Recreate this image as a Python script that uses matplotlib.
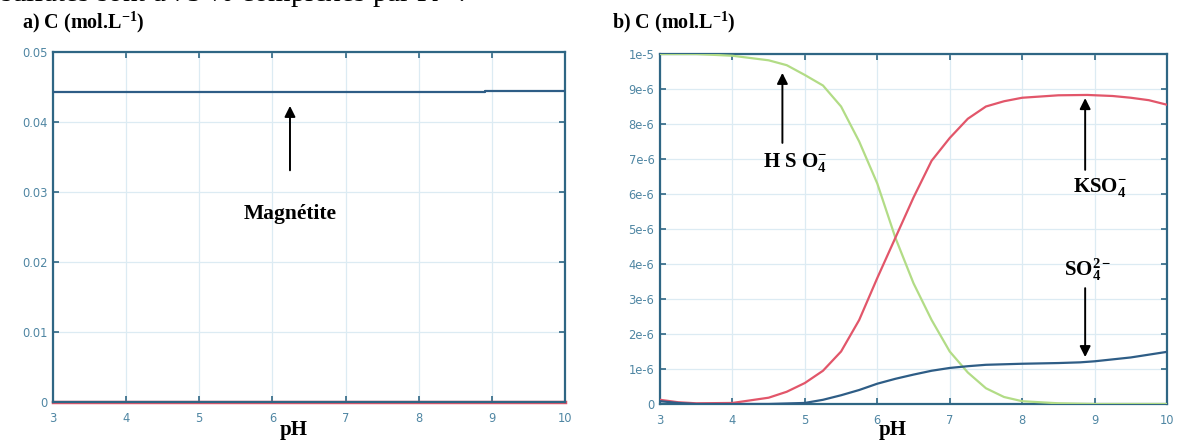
import numpy as np
import matplotlib
matplotlib.use("Agg")
import matplotlib.pyplot as plt

# ---- data -------------------------------------------------------------
ph_ticks = [3, 4, 5, 6, 7, 8, 9, 10]

# panel a: magnetite concentration (mol/L)
ph_a = [3.0, 8.9, 8.9, 10.0]
magnetite = [0.04425, 0.04425, 0.0444, 0.0444]
ph_a_other = [3.0, 10.0]
other_a = [0.0, 0.0]
yticks_a = [0, 0.01, 0.02, 0.03, 0.04, 0.05]
ylabels_a = ["0", "0.01", "0.02", "0.03", "0.04", "0.05"]

# panel b: sulfate species (1e-6 mol/L)
ph_hso4 = [3.0, 3.5, 4.0, 4.5, 4.75, 5.0, 5.25, 5.5, 5.75, 6.0, 6.25, 6.5,
           6.75, 7.0, 7.25, 7.5, 7.75, 8.0, 8.5, 9.0, 10.0]
hso4 = [10.0, 10.0, 9.95, 9.82, 9.68, 9.4, 9.1, 8.5, 7.5, 6.3, 4.75, 3.45,
        2.4, 1.5, 0.9, 0.45, 0.2, 0.08, 0.02, 0.0, 0.0]

ph_kso4 = [3.0, 3.25, 3.5, 4.0, 4.5, 4.75, 5.0, 5.25, 5.5, 5.75, 6.0, 6.25,
           6.5, 6.75, 7.0, 7.25, 7.5, 7.75, 8.0, 8.5, 8.9, 9.25, 9.5, 9.75, 10.0]
kso4 = [0.12, 0.05, 0.02, 0.03, 0.18, 0.35, 0.6, 0.95, 1.5, 2.4, 3.6, 4.75,
        5.9, 6.95, 7.6, 8.15, 8.5, 8.65, 8.75, 8.82, 8.83, 8.8, 8.75, 8.68, 8.55]

ph_so4 = [3.0, 3.25, 3.5, 4.5, 5.0, 5.25, 5.5, 5.75, 6.0, 6.25, 6.5, 6.75,
          7.0, 7.25, 7.5, 8.0, 8.5, 8.8, 9.0, 9.5, 10.0]
so4 = [0.08, 0.03, 0.0, 0.0, 0.03, 0.12, 0.25, 0.4, 0.58, 0.72, 0.84, 0.95,
       1.03, 1.08, 1.12, 1.15, 1.17, 1.19, 1.22, 1.33, 1.49]

yticks_b = [0, 1e-6, 2e-6, 3e-6, 4e-6, 5e-6, 6e-6, 7e-6, 8e-6, 9e-6, 1e-5]
ylabels_b = ["0", "1e-6", "2e-6", "3e-6", "4e-6", "5e-6", "6e-6", "7e-6",
             "8e-6", "9e-6", "1e-5"]

# ---- style ------------------------------------------------------------
plt.rcParams['mathtext.fontset'] = 'custom'
plt.rcParams['mathtext.rm'] = 'Liberation Serif:bold'
plt.rcParams['mathtext.it'] = 'Liberation Serif:bold'
plt.rcParams['mathtext.bf'] = 'Liberation Serif:bold'

SPINE = '#2f6684'
TICKC = '#4f86a3'
GRID = '#dcebf3'
BLUE = '#2e5d86'
RED = '#e2566a'
GREEN = '#b2dc86'
SERIF = 'Liberation Serif'
LBL = dict(family=SERIF, fontweight='bold', ha='center', va='center')
ARROW = dict(arrowstyle='-|>', color='black', lw=1.4, mutation_scale=16,
             shrinkA=0, shrinkB=0)


def style_axes(ax, yticks, ylabels, ymax):
    ax.set_xlim(3, 10)
    ax.set_ylim(0, ymax)
    ax.set_xticks(ph_ticks)
    ax.set_xticklabels([str(t) for t in ph_ticks])
    ax.set_yticks(yticks)
    ax.set_yticklabels(ylabels)
    ax.tick_params(direction='in', length=4, width=1.2, color=SPINE,
                   labelcolor=TICKC, labelsize=8.3, top=True, right=True)
    ax.tick_params(axis='x', pad=7)
    ax.tick_params(axis='y', pad=4)
    ax.grid(True, color=GRID, linewidth=0.9)
    ax.set_axisbelow(True)
    for s in ax.spines.values():
        s.set_color(SPINE)
        s.set_linewidth(1.6)


def arrow(ax, x, y_from, y_to):
    ax.annotate("", xy=(x, y_to), xytext=(x, y_from), arrowprops=ARROW)


fig = plt.figure(figsize=(11.77, 4.41), dpi=100)

# last line of the page text above the charts, cut by the crop
fig.text(0.0, 1 - 2 / 441, "sulfates sont à 75 % complexés par K$^{+}$ :",
         family=SERIF, fontsize=21, va='baseline', ha='left')

# panel a
ax1 = fig.add_axes([53 / 1177, 1 - 402 / 441, 512 / 1177, 350 / 441])
style_axes(ax1, yticks_a, ylabels_a, 0.05)
ax1.plot(ph_a_other, other_a, color=RED, lw=2.5, clip_on=False, zorder=1)
ax1.plot(ph_a, magnetite, color=BLUE, lw=1.6, zorder=3)
arrow(ax1, 6.24, 0.0331, 0.0423)
ax1.text(6.24, 0.0269, "Magnétite", fontsize=15.5, **LBL)
fig.text(22 / 1177, 1 - 22 / 441, "a) C (mol.L$^{-1}$)", family=SERIF,
         fontweight='bold', fontsize=14.5, va='center', ha='left')
fig.text(294 / 1177, 1 - 430 / 441, "pH", family=SERIF,
         fontweight='bold', fontsize=15, va='center', ha='center')

# panel b
ax2 = fig.add_axes([660 / 1177, 1 - 404 / 441, 507 / 1177, 350 / 441])
style_axes(ax2, yticks_b, ylabels_b, 1e-5)
ax2.plot(ph_hso4, np.array(hso4) * 1e-6, color=GREEN, lw=1.6, zorder=3)
ax2.plot(ph_kso4, np.array(kso4) * 1e-6, color=RED, lw=1.6, zorder=3)
ax2.plot(ph_so4, np.array(so4) * 1e-6, color=BLUE, lw=1.6, zorder=3)

arrow(ax2, 4.69, 7.46e-6, 9.46e-6)
ax2.text(4.86, 6.89e-6, "H S O$_4^{-}$", fontsize=15, **LBL)
arrow(ax2, 8.87, 6.69e-6, 8.74e-6)
ax2.text(9.08, 6.2e-6, "KSO$_4^{-}$", fontsize=15, **LBL)
arrow(ax2, 8.87, 3.31e-6, 1.34e-6)
ax2.text(8.9, 3.83e-6, "SO$_4^{2-}$", fontsize=15, **LBL)

fig.text(612 / 1177, 1 - 22 / 441, "b) C (mol.L$^{-1}$)", family=SERIF,
         fontweight='bold', fontsize=14.5, va='center', ha='left')
fig.text(893 / 1177, 1 - 430 / 441, "pH", family=SERIF,
         fontweight='bold', fontsize=15, va='center', ha='center')

plt.savefig("out.png", dpi=100)
